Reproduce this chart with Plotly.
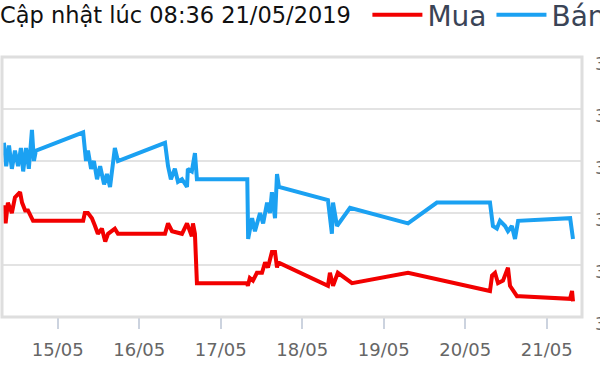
import plotly.graph_objects as go

title_text = "Cập nhật lúc 08:36 21/05/2019"

ban_time = [
    "2019-05-14 08:10", "2019-05-14 08:50", "2019-05-14 09:40", "2019-05-14 10:30",
    "2019-05-14 11:25", "2019-05-14 12:20", "2019-05-14 13:10", "2019-05-14 13:50",
    "2019-05-14 14:40", "2019-05-14 15:30", "2019-05-14 16:25", "2019-05-14 17:00",
    "2019-05-14 17:35", "2019-05-15 07:30", "2019-05-15 08:20", "2019-05-15 08:55",
    "2019-05-15 09:50", "2019-05-15 10:40", "2019-05-15 11:35", "2019-05-15 12:30",
    "2019-05-15 13:40", "2019-05-15 14:30", "2019-05-15 15:25", "2019-05-15 16:50",
    "2019-05-15 17:45", "2019-05-16 07:36", "2019-05-16 08:30", "2019-05-16 09:20",
    "2019-05-16 10:30", "2019-05-16 11:25", "2019-05-16 12:36", "2019-05-16 14:05",
    "2019-05-16 14:20", "2019-05-16 15:30", "2019-05-16 16:25", "2019-05-16 17:00",
    "2019-05-17 07:50", "2019-05-17 08:05", "2019-05-17 09:15", "2019-05-17 10:05",
    "2019-05-17 11:35", "2019-05-17 12:30", "2019-05-17 13:40", "2019-05-17 14:30",
    "2019-05-17 15:05", "2019-05-17 16:00", "2019-05-17 16:35", "2019-05-17 17:10",
    "2019-05-18 07:35", "2019-05-18 08:45", "2019-05-18 09:05", "2019-05-18 10:15",
    "2019-05-18 14:05", "2019-05-19 07:10", "2019-05-19 15:40", "2019-05-20 07:18",
    "2019-05-20 08:10", "2019-05-20 09:20", "2019-05-20 10:15", "2019-05-20 11:45",
    "2019-05-20 12:35", "2019-05-20 13:45", "2019-05-20 14:40", "2019-05-20 15:35",
    "2019-05-21 06:55", "2019-05-21 07:45",
]
ban_value = [
    36335, 36290, 36330, 36285, 36320, 36290, 36325, 36280, 36325, 36285, 36360, 36300,
    36320, 36355, 36300, 36320, 36285, 36300, 36265, 36290, 36255, 36275, 36250, 36325,
    36300, 36335, 36290, 36265, 36285, 36260, 36265, 36250, 36285, 36280, 36315, 36265,
    36265, 36150, 36190, 36165, 36200, 36180, 36220, 36200, 36240, 36190, 36275, 36250,
    36225, 36160, 36220, 36175, 36210, 36180, 36220, 36220, 36175, 36170, 36185, 36175,
    36165, 36175, 36150, 36185, 36190, 36150,
]

mua_time = [
    "2019-05-14 08:30", "2019-05-14 08:40", "2019-05-14 09:20", "2019-05-14 10:30",
    "2019-05-14 11:25", "2019-05-14 12:55", "2019-05-14 13:30", "2019-05-14 14:25",
    "2019-05-14 15:15", "2019-05-14 16:25", "2019-05-14 16:45", "2019-05-15 07:30",
    "2019-05-15 08:00", "2019-05-15 08:55", "2019-05-15 10:05", "2019-05-15 11:00",
    "2019-05-15 11:50", "2019-05-15 13:00", "2019-05-15 14:00", "2019-05-15 14:50",
    "2019-05-15 16:50", "2019-05-15 17:45", "2019-05-16 07:36", "2019-05-16 08:30",
    "2019-05-16 09:40", "2019-05-16 12:36", "2019-05-16 14:05", "2019-05-16 15:30",
    "2019-05-16 15:50", "2019-05-16 16:25", "2019-05-16 17:00", "2019-05-17 07:45",
    "2019-05-17 08:00", "2019-05-17 08:35", "2019-05-17 09:30", "2019-05-17 10:40",
    "2019-05-17 12:10", "2019-05-17 13:05", "2019-05-17 13:55", "2019-05-17 15:05",
    "2019-05-17 16:00", "2019-05-17 16:35", "2019-05-17 16:55", "2019-05-18 07:35",
    "2019-05-18 08:10", "2019-05-18 09:05", "2019-05-18 10:30", "2019-05-18 14:40",
    "2019-05-19 07:10", "2019-05-20 07:18", "2019-05-20 07:55", "2019-05-20 08:47",
    "2019-05-20 09:40", "2019-05-20 11:08", "2019-05-20 12:36", "2019-05-20 13:12",
    "2019-05-20 14:05", "2019-05-20 15:15", "2019-05-20 16:08", "2019-05-21 06:53",
    "2019-05-21 07:28", "2019-05-21 07:45",
]
mua_value = [
    36215, 36180, 36220, 36200, 36230, 36240, 36220, 36205, 36205, 36190, 36185, 36185,
    36200, 36200, 36190, 36175, 36160, 36170, 36145, 36160, 36170, 36160, 36160, 36180,
    36165, 36160, 36180, 36155, 36180, 36160, 36065, 36065, 36060, 36075, 36070, 36085,
    36085, 36105, 36095, 36125, 36125, 36095, 36105, 36060, 36085, 36060, 36085, 36065,
    36085, 36050, 36080, 36085, 36065, 36070, 36095, 36060, 36050, 36040, 36040, 36035,
    36050, 36030,
]

series_names = ["Mua", "Bán"]
series_colors = ["#f20000", "#1ba1f2"]

fig = go.Figure()
fig.add_trace(go.Scatter(x=mua_time, y=mua_value, mode="lines", name=series_names[0],
                         line=dict(color=series_colors[0], width=4)))
fig.add_trace(go.Scatter(x=ban_time, y=ban_value, mode="lines", name=series_names[1],
                         line=dict(color=series_colors[1], width=4)))

fig.add_shape(type="rect", xref="paper", yref="paper", x0=0, x1=1, y0=0, y1=1,
              line=dict(color="#dedede", width=3), layer="above")

fig.update_layout(
    width=600, height=384,
    margin=dict(l=2, r=18, t=57, b=67, autoexpand=False),
    paper_bgcolor="white", plot_bgcolor="white",
    font=dict(family="DejaVu Sans", color="#666666"),
    title=dict(text=title_text, xref="container", x=0.0, xanchor="left",
               yref="container", y=1 - 15 / 384, yanchor="middle",
               font=dict(family="DejaVu Sans", size=22.5, color="#111111")),
    showlegend=True,
    legend=dict(orientation="h", x=0.63, xanchor="left", y=1 - 15 / 384, yref="container",
                yanchor="middle", font=dict(family="DejaVu Sans", size=28, color="#3a4456"),
                itemwidth=50, bgcolor="rgba(0,0,0,0)"),
    xaxis=dict(type="date", range=["2019-05-14 07:36", "2019-05-21 10:24"],
               tick0="2019-05-15", dtick=86400000, tickformat="%d/%m",
               showgrid=False, zeroline=False, showline=False, automargin=False,
               ticks="outside", ticklen=11, tickwidth=2, tickcolor="#ccd3df",
               ticklabelstandoff=5,
               tickfont=dict(family="DejaVu Sans", size=18, color="#666666")),
    yaxis=dict(range=[36000, 36500], dtick=100, side="right", tickformat=",",
               showgrid=True, gridcolor="#e3e3e3", gridwidth=2, zeroline=False,
               showline=False, ticks="", ticklabelstandoff=12, ticklabelshift=7,
               automargin=False,
               tickfont=dict(family="DejaVu Sans", size=17, color="#666666")),
)

fig.write_html("out.html", config={"displayModeBar": False},
               post_script="document.body.style.margin='0';")
